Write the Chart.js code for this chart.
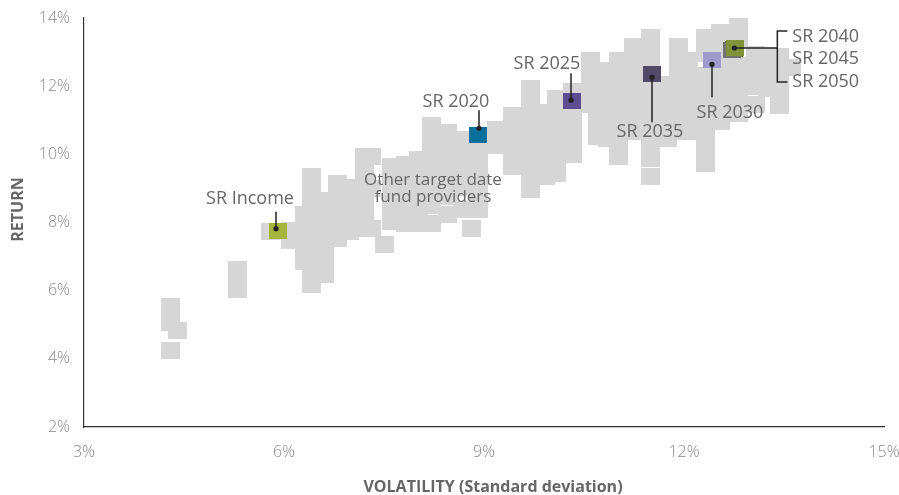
<!DOCTYPE html>
<html>
<head>
<meta charset="utf-8">
<script src="https://cdn.jsdelivr.net/npm/chart.js@4.4.1/dist/chart.umd.min.js"></script>
<style>
  html, body { margin: 0; padding: 0; background: #fff; }
</style>
</head>
<body>
<canvas id="riskChart" width="899" height="495"></canvas>
<script>
// SR funds (volatility %, return %)
var fundNames = ["SR Income", "SR 2020", "SR 2025", "SR 2030", "SR 2035", "SR 2040", "SR 2045", "SR 2050"];
var fundVol = [5.91, 8.91, 10.32, 12.42, 11.52, 12.77, 12.72, 12.75];
var fundRet = [7.76, 10.56, 11.56, 12.76, 12.35, 13.12, 13.06, 13.10];
var fundColors = ["#a4b53c", "#0b6f9e", "#5c4c92", "#a09bcc", "#524867", "#819239", "#727272", "#6b7a2e"];

// other target date fund providers, one row per column of boxes
var otherVol = [
  4.29, 4.29, 4.29, 4.40,
  5.30, 5.30, 5.30,
  5.79, 6.09, 6.09,
  6.30, 6.30, 6.30, 6.30,
  6.41, 6.41, 6.41, 6.41, 6.41, 6.41, 6.41, 6.41,
  6.60, 6.60, 6.60, 6.60, 6.60, 6.60,
  6.80, 6.80, 6.80, 6.80, 6.80,
  6.98, 6.98, 6.98, 6.98,
  7.20, 7.20, 7.20, 7.20, 7.20, 7.20,
  7.31, 7.31, 7.31, 7.50,
  7.61, 7.61, 7.61, 7.61, 7.61,
  7.82, 7.82, 7.82, 7.82, 7.82,
  8.01, 8.01, 8.01, 8.01, 8.01,
  8.21, 8.21, 8.21, 8.21, 8.21, 8.21, 8.21,
  8.45, 8.45, 8.45, 8.45, 8.45, 8.45,
  8.67, 8.67, 8.67, 8.67, 8.67, 8.81,
  8.91, 8.91, 8.91, 8.91, 8.91,
  9.18, 9.18,
  9.42, 9.42, 9.42, 9.42, 9.42,
  9.69, 9.69, 9.69, 9.69, 9.69, 9.69, 9.69, 9.69,
  9.92, 9.92, 9.92, 9.92, 9.92,
  10.08, 10.08, 10.08, 10.08, 10.08, 10.08,
  10.32, 10.32, 10.32, 10.32, 10.32,
  10.59, 10.59, 10.59, 10.59, 10.70, 10.70,
  10.85, 10.85, 10.85, 10.85, 10.85, 10.85,
  11.01, 11.01, 11.01, 11.01, 11.01, 11.01, 11.01,
  11.24, 11.24, 11.24, 11.24, 11.24, 11.24, 11.24,
  11.50, 11.50, 11.50, 11.50, 11.50, 11.50, 11.50, 11.50, 11.50, 11.50,
  11.75, 11.75, 11.75, 11.75, 11.75,
  11.91, 11.91, 11.91, 11.91, 11.91, 11.91, 11.91,
  12.06, 12.06, 12.06, 12.06, 12.06, 12.06,
  12.32, 12.32, 12.32, 12.32, 12.32, 12.32, 12.32, 12.32, 12.32,
  12.54, 12.54, 12.54, 12.54, 12.54, 12.54, 12.54,
  12.81, 12.81, 12.81, 12.81, 12.81, 12.81,
  13.07, 13.07, 13.07, 13.07,
  13.25, 13.25, 13.25,
  13.43, 13.43, 13.43, 13.43, 13.61
];
var otherRet = [
  5.53, 5.06, 4.24, 4.82,
  6.62, 6.32, 6.03,
  7.74, 7.76, 7.47,
  8.24, 7.76, 7.29, 6.85,
  9.35, 8.88, 8.41, 7.94, 7.47, 7.00, 6.53, 6.18,
  8.65, 8.20, 7.74, 7.30, 6.91, 6.47,
  9.15, 8.68, 8.21, 7.74, 7.53,
  9.03, 8.56, 8.09, 7.74,
  9.94, 9.47, 9.00, 8.53, 8.06, 7.82,
  9.94, 9.00, 7.82, 7.35,
  9.65, 9.18, 8.71, 8.24, 8.03,
  9.71, 9.24, 8.76, 8.29, 7.97,
  9.85, 9.38, 8.91, 8.44, 7.97,
  10.85, 10.38, 9.91, 9.44, 8.97, 8.50, 7.97,
  10.65, 10.18, 9.71, 9.24, 8.76, 8.24,
  10.44, 9.97, 9.50, 9.03, 8.38, 7.82,
  10.09, 9.62, 9.15, 8.68, 8.38,
  10.74, 10.26,
  11.15, 10.68, 10.21, 9.74, 9.65,
  11.94, 11.47, 11.00, 10.53, 10.06, 9.59, 9.26, 8.97,
  11.24, 10.76, 10.29, 9.82, 9.35,
  11.65, 11.18, 10.71, 10.24, 9.76, 9.44,
  11.85, 11.09, 10.62, 10.15, 10.00,
  12.76, 12.29, 11.82, 11.47, 11.00, 10.53,
  12.47, 12.00, 11.53, 11.06, 10.59, 10.47,
  12.74, 12.26, 11.79, 11.32, 10.85, 10.38, 9.94,
  13.15, 12.68, 12.21, 11.74, 11.26, 10.79, 10.68,
  13.44, 12.97, 12.74, 11.91, 11.44, 10.97, 10.50, 10.03, 9.88, 9.35,
  12.06, 11.59, 11.12, 10.65, 10.47,
  13.15, 12.68, 12.21, 11.74, 11.26, 10.79, 10.68,
  12.76, 12.29, 11.82, 11.35, 10.88, 10.68,
  13.44, 12.97, 12.32, 11.85, 11.38, 10.91, 10.44, 9.97, 9.74,
  13.56, 13.09, 12.62, 12.21, 11.74, 11.26, 10.97,
  13.85, 13.38, 12.62, 12.15, 11.68, 11.21,
  12.94, 12.47, 12.00, 11.47,
  12.88, 12.41, 11.94,
  12.88, 12.41, 11.94, 11.44, 12.56
];

var volTicks = [3, 6, 9, 12, 15];
var retTicks = [2, 4, 6, 8, 10, 12, 14];
var noteLines = ["Other target date", "fund providers"];

var textGrey = "#666";
var lineDark = "#222";

// solid box used as the marker
function makeBox(color, w, h) {
  var c = document.createElement("canvas");
  c.width = w;
  c.height = h;
  var g = c.getContext("2d");
  g.fillStyle = color;
  g.fillRect(0, 0, w, h);
  return c;
}

// callouts: offsets in px (dot from point, line end from dot, text from dot)
var callouts = [
  { fund: 0, dot: [-2, -2], line: [0, -17], text: [-26, -30] },
  { fund: 1, dot: [1, -7], line: [0, -18], text: [-23, -26] },
  { fund: 2, dot: [-1, -1], line: [0, -27], text: [-24, -36] },
  { fund: 3, dot: [0, 4], line: [0, 33], text: [18, 49] },
  { fund: 4, dot: [0, 3], line: [0, 45], text: [-2, 55] }
];

var calloutPlugin = {
  id: "callouts",
  afterDatasetsDraw: function(chart) {
    var ctx = chart.ctx;
    var xs = chart.scales.x, ys = chart.scales.y;
    ctx.save();

    ctx.fillStyle = textGrey;
    ctx.textAlign = "center";
    ctx.textBaseline = "middle";
    ctx.font = '17px "Open Sans", "Noto Sans", sans-serif';
    var nx = xs.getPixelForValue(8.235), ny = ys.getPixelForValue(9.235);
    noteLines.forEach(function(t, i) { ctx.fillText(t, nx, ny + i * 17); });

    ctx.font = '18px "Open Sans", "Noto Sans", sans-serif';
    callouts.forEach(function(c) {
      var px = xs.getPixelForValue(fundVol[c.fund]) + c.dot[0];
      var py = ys.getPixelForValue(fundRet[c.fund]) + c.dot[1];
      ctx.strokeStyle = lineDark;
      ctx.lineWidth = 1.5;
      ctx.beginPath();
      ctx.moveTo(px, py);
      ctx.lineTo(px + c.line[0], py + c.line[1]);
      ctx.stroke();
      ctx.fillStyle = lineDark;
      ctx.beginPath();
      ctx.arc(px, py, 2.6, 0, Math.PI * 2);
      ctx.fill();
      ctx.fillStyle = textGrey;
      ctx.textAlign = "center";
      ctx.fillText(fundNames[c.fund], px + c.text[0], py + c.text[1]);
    });

    // bracket for 2040 / 2045 / 2050
    var bx = xs.getPixelForValue(fundVol[5]) - 1;
    var by = ys.getPixelForValue(fundRet[5]);
    var kx = bx + 43;
    ctx.strokeStyle = lineDark;
    ctx.lineWidth = 1.5;
    ctx.beginPath();
    ctx.moveTo(bx, by);
    ctx.lineTo(kx, by);
    ctx.moveTo(kx + 10, by - 17);
    ctx.lineTo(kx, by - 17);
    ctx.lineTo(kx, by + 34);
    ctx.lineTo(kx + 10, by + 34);
    ctx.stroke();
    ctx.fillStyle = lineDark;
    ctx.beginPath();
    ctx.arc(bx, by, 2.6, 0, Math.PI * 2);
    ctx.fill();
    ctx.fillStyle = textGrey;
    ctx.textAlign = "left";
    ctx.fillText(fundNames[5], kx + 15, by - 11);
    ctx.fillText(fundNames[6], kx + 15, by + 11);
    ctx.fillText(fundNames[7], kx + 15, by + 34);

    // axis titles
    var area = chart.chartArea;
    ctx.font = 'bold 16px "Open Sans", "Noto Sans", sans-serif';
    ctx.fillStyle = textGrey;
    ctx.textAlign = "center";
    ctx.fillText("VOLATILITY (Standard deviation)", (area.left + area.right) / 2 + 9, 487);
    ctx.translate(18, (area.top + area.bottom) / 2 - 13);
    ctx.rotate(-Math.PI / 2);
    ctx.fillText("RETURN", 0, 0);
    ctx.restore();
  }
};

var datasets = [];
fundNames.forEach(function(name, i) {
  datasets.push({
    label: name,
    data: [{ x: fundVol[i], y: fundRet[i] }],
    pointStyle: makeBox(fundColors[i], 18, 16),
    order: i
  });
});
datasets.push({
  label: "Other target date fund providers",
  data: otherVol.map(function(v, i) { return { x: v, y: otherRet[i] }; }),
  pointStyle: makeBox("#d6d6d6", 19, 17),
  order: 99
});

var tickFont = { family: '"Open Sans", "Noto Sans", sans-serif', size: 16, weight: 300 };

var ctx = document.getElementById("riskChart").getContext("2d");
var riskChart = new Chart(ctx, {
  type: "scatter",
  data: { datasets: datasets },
  options: {
    responsive: false,
    animation: false,
    devicePixelRatio: 1,
    layout: { padding: { top: 18, right: 15, bottom: 0, left: 0 } },
    plugins: { legend: { display: false }, tooltip: { enabled: false } },
    scales: {
      x: {
        type: "linear",
        min: volTicks[0],
        max: volTicks[volTicks.length - 1],
        afterBuildTicks: function(scale) {
          scale.ticks = volTicks.map(function(v) { return { value: v }; });
        },
        afterFit: function(scale) {
          scale.height = 68;
          scale.paddingLeft = 0;
          scale.paddingRight = 0;
        },
        grid: { display: false, drawTicks: false },
        border: { display: true, color: "#333", width: 1.2 },
        ticks: {
          padding: 16,
          color: "#8a8a8a",
          font: tickFont,
          maxRotation: 0,
          callback: function(v) { return v + "%"; }
        }
      },
      y: {
        type: "linear",
        min: retTicks[0],
        max: retTicks[retTicks.length - 1],
        afterBuildTicks: function(scale) {
          scale.ticks = retTicks.map(function(v) { return { value: v }; });
        },
        afterFit: function(scale) {
          scale.width = 84;
          scale.paddingTop = 0;
          scale.paddingBottom = 0;
        },
        grid: { display: false, drawTicks: false },
        border: { display: true, color: "#333", width: 1.2 },
        ticks: {
          padding: 14,
          color: "#8a8a8a",
          font: tickFont,
          callback: function(v) { return v + "%"; }
        }
      }
    }
  },
  plugins: [calloutPlugin]
});
</script>
</body>
</html>
